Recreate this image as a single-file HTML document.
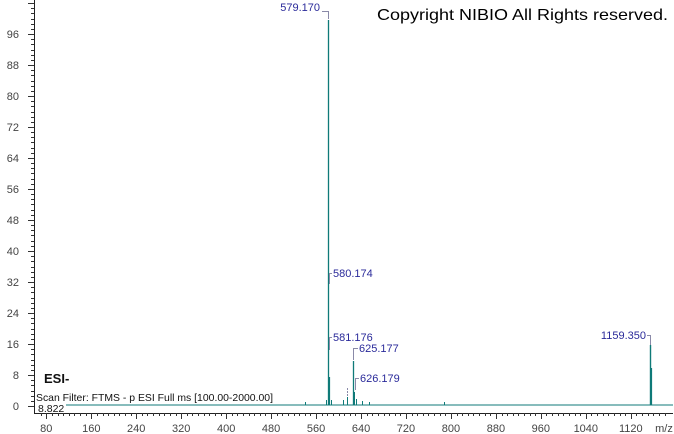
<!DOCTYPE html>
<html><head><meta charset="utf-8">
<style>
html,body{margin:0;padding:0;background:#fff;}
svg{display:block;}
text{font-family:"Liberation Sans",Arial,sans-serif;}
</style></head>
<body>
<svg width="674" height="434" viewBox="0 0 674 434" xmlns="http://www.w3.org/2000/svg">
<rect width="674" height="434" fill="#fff"/>
<!-- axes -->
<line x1="34.5" y1="0" x2="34.5" y2="414" stroke="#222" stroke-width="1"/>
<line x1="34" y1="413.5" x2="673" y2="413.5" stroke="#222" stroke-width="1"/>
<g id="yt" stroke="#333" stroke-width="1"></g>
<g id="xt" stroke="#333" stroke-width="1"></g>
<g id="yl" font-size="11" fill="#444" text-anchor="end"></g>
<g id="xl" font-size="11" fill="#444" text-anchor="middle"></g>
<text x="664" y="432" font-size="11" fill="#444" text-anchor="middle">m/z</text>

<!-- baseline -->
<line x1="66" y1="405" x2="673" y2="405" stroke="#0f7a78" stroke-width="1"/>
<!-- spectrum peaks -->
<g stroke="#0f7a78">
<line x1="328.5" y1="20" x2="328.5" y2="405" stroke-width="1.3"/>
<line x1="329.5" y1="377" x2="329.5" y2="405" stroke-width="1.2"/>
<line x1="326.5" y1="400" x2="326.5" y2="405" stroke-width="1"/>
<line x1="331.5" y1="400" x2="331.5" y2="405" stroke-width="1"/>
<line x1="353.5" y1="361" x2="353.5" y2="405" stroke-width="1.3"/>
<line x1="354.5" y1="392" x2="354.5" y2="405" stroke-width="1"/>
<line x1="347.5" y1="397" x2="347.5" y2="405" stroke-width="1"/>
<line x1="343.5" y1="400" x2="343.5" y2="405" stroke-width="1"/>
<line x1="356.5" y1="399" x2="356.5" y2="405" stroke-width="1"/>
<line x1="362.5" y1="401" x2="362.5" y2="405" stroke-width="1"/>
<line x1="369.5" y1="402" x2="369.5" y2="405" stroke-width="1"/>
<line x1="305.5" y1="402" x2="305.5" y2="405" stroke-width="1"/>
<line x1="444.5" y1="402" x2="444.5" y2="405" stroke-width="1"/>
<line x1="650.5" y1="345" x2="650.5" y2="405" stroke-width="1.4"/>
<line x1="651.5" y1="368" x2="651.5" y2="405" stroke-width="1.2"/>
</g>
<!-- gray brackets -->
<g stroke="#8a8aa8" stroke-width="1" fill="none">
<polyline points="322,11.5 328.5,11.5 328.5,19"/>
<polyline points="332,273.5 329.5,273.5 329.5,284"/>
<polyline points="332,337.5 329.5,337.5 329.5,350"/>
<polyline points="358,348.5 353.5,348.5 353.5,360"/>
<polyline points="359,378.5 355.5,378.5 355.5,390"/>
<line x1="347.5" y1="388" x2="347.5" y2="397" stroke-dasharray="2,1"/>
<polyline points="647,335.5 650.5,335.5 650.5,345"/>
</g>
<!-- peak labels -->
<g font-size="11" fill="#2a2a9a">
<text x="320" y="11" text-anchor="end">579.170</text>
<text x="333" y="277">580.174</text>
<text x="333" y="341">581.176</text>
<text x="359" y="352">625.177</text>
<text x="360" y="382">626.179</text>
<text x="646" y="339" text-anchor="end">1159.350</text>
</g>
<!-- annotations -->
<text x="377" y="20" font-size="16" fill="#000" textLength="291" lengthAdjust="spacingAndGlyphs">Copyright NIBIO All Rights reserved.</text>
<text x="44" y="383" font-size="13" font-weight="bold" fill="#111">ESI-</text>
<text x="36" y="401" font-size="10.5" fill="#111" textLength="237" lengthAdjust="spacingAndGlyphs">Scan Filter: FTMS - p ESI Full ms [100.00-2000.00]</text>
<text x="38" y="412" font-size="10.5" fill="#111">8.822</text>
</svg>
<script>
(function(){
var ns="http://www.w3.org/2000/svg";
function el(p,t,a,txt){var e=document.createElementNS(ns,t);for(var k in a)e.setAttribute(k,a[k]);if(txt!==undefined)e.textContent=txt;document.getElementById(p).appendChild(e);}
// Y ticks
for(var v=0; v<=106; v+=8/6){
  var y=406-v*3.875; if(y<0) break;
  var major=Math.abs(Math.round(v)-v)<0.01 && Math.round(v)%8===0;
  var yy=Math.round(y)+0.5;
  el("yt","line",{x1:major?28:31,y1:yy,x2:34,y2:yy});
  if(major && Math.round(v)<=96) el("yl","text",{x:19,y:Math.round(y)+4},String(Math.round(v)));
}
// X ticks
function xp(m){return 46.3+(m-80)*0.562;}
for(var m=70;m<=1180;m+=10){
  var x=xp(m); if(x<35||x>673) continue;
  var xx=Math.round(x)+0.5;
  var major=(m%80===0);
  el("xt","line",{x1:xx,y1:413,x2:xx,y2:major?419:416});
  if(major) el("xl","text",{x:x,y:432},String(m));
}
})();
</script>
</body></html>
